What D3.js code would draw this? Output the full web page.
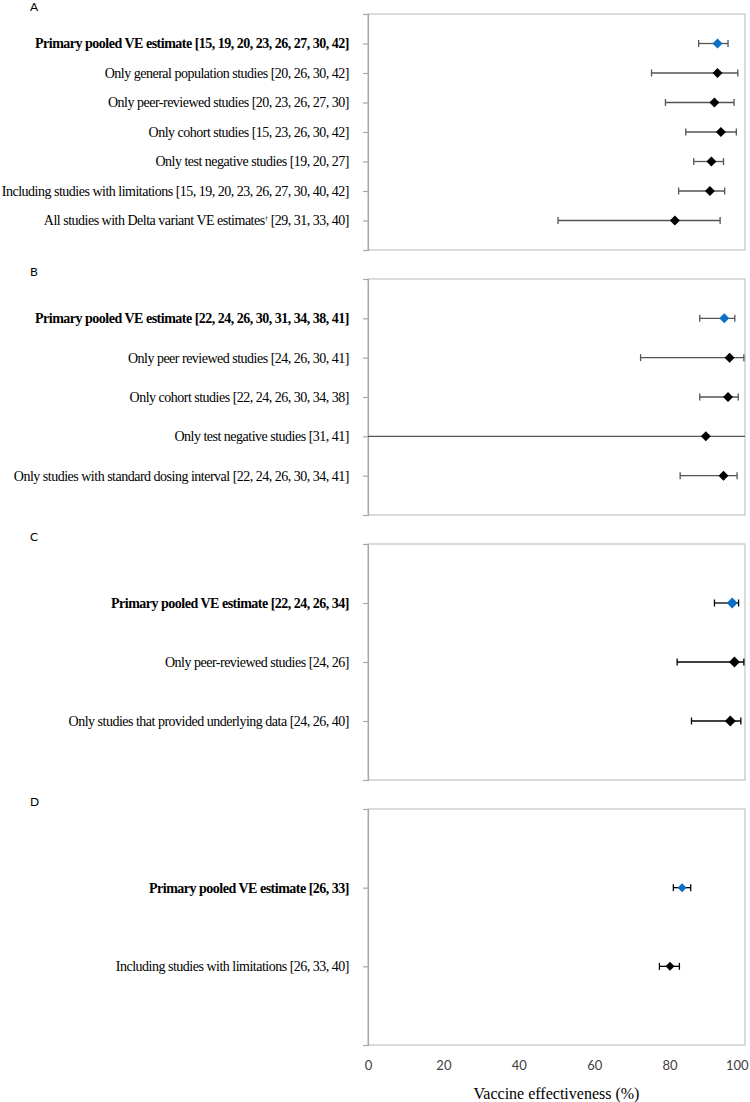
<!DOCTYPE html>
<html>
<head>
<meta charset="utf-8">
<script src="https://cdn.jsdelivr.net/npm/d3@7"></script>
<style>
  body { margin: 0; background: #fff; }
  .row-label text { font-family: "Liberation Serif", "Times New Roman", serif; font-size: 14px; letter-spacing: -0.5px; fill: #000; }
  .panel-letter { font-family: Lato, "Open Sans", sans-serif; font-size: 12px; fill: #000; }
</style>
</head>
<body>
<svg id="chart" width="750" height="1102"></svg>
<script>

// Panel A
const labelsA = [
    'Primary pooled VE estimate [15, 19, 20, 23, 26, 27, 30, 42]',
    'Only general population studies [20, 26, 30, 42]',
    'Only peer-reviewed studies [20, 23, 26, 27, 30]',
    'Only cohort studies [15, 23, 26, 30, 42]',
    'Only test negative studies [19, 20, 27]',
    'Including studies with limitations [15, 19, 20, 23, 26, 27, 30, 40, 42]',
    'All studies with Delta variant VE estimates† [29, 31, 33, 40]'
]
const estA  = [92.7, 92.7, 91.9, 93.6, 91.1, 90.7, 81.4]
const lowA  = [87.7, 75.2, 78.9, 84.3, 86.4, 82.4, 50.4]
const highA = [95.5, 98.1, 97.1, 97.7, 94.3, 94.6, 93.4]

// Panel B
const labelsB = [
    'Primary pooled VE estimate [22, 24, 26, 30, 31, 34, 38, 41]',
    'Only peer reviewed studies [24, 26, 30, 41]',
    'Only cohort studies [22, 24, 26, 30, 34, 38]',
    'Only test negative studies [31, 41]',
    'Only studies with standard dosing interval [22, 24, 26, 30, 34, 41]'
]
const estB  = [94.5, 95.9, 95.5, 89.6, 94.3]
const lowB  = [88.0, 72.3, 88.0, -15, 82.8]
const highB = [97.3, 99.7, 98.2, 115, 97.9]

// Panel C
const labelsC = [
    'Primary pooled VE estimate [22, 24, 26, 34]',
    'Only peer-reviewed studies [24, 26]',
    'Only studies that provided underlying data [24, 26, 40]'
]
const estC  = [96.6, 97.2, 96.1]
const lowC  = [91.9, 82.0, 85.8]
const highC = [98.3, 99.7, 98.9]

// Panel D
const labelsD = [
    'Primary pooled VE estimate [26, 33]',
    'Including studies with limitations [26, 33, 40]'
]
const estD  = [83.3, 80.1]
const lowD  = [81.0, 77.3]
const highD = [85.6, 82.6]

const xTicks = [0, 20, 40, 60, 80, 100]
const xTitle = 'Vaccine effectiveness (%)'

// Layout
const plotLeft = 368, plotRight = 745
const panelTop0 = 14, panelStep = 265, panelHeight = 236

const panels = [
    {letter: 'A', labels: labelsA, est: estA, low: lowA, high: highA, bar: '#555', marker: 10},
    {letter: 'B', labels: labelsB, est: estB, low: lowB, high: highB, bar: '#555', marker: 10},
    {letter: 'C', labels: labelsC, est: estC, low: lowC, high: highC, bar: '#000', marker: 11},
    {letter: 'D', labels: labelsD, est: estD, low: lowD, high: highD, bar: '#000', marker: 9}
]

const svg = d3.select('#chart')

const x = d3.scaleLinear().domain([0, 100]).range([plotLeft, plotRight])

panels.forEach(function(p, pi){

    const top = panelTop0 + pi * panelStep
    const bottom = top + panelHeight
    const n = p.labels.length

    const y = d3.scaleLinear().domain([0, n + 1]).range([top, bottom])

    const g = svg.append('g').classed('panel', true)

    // Panel letter
    g.append('text')
        .attr('class', 'panel-letter')
        .attr('x', 30)
        .attr('y', top - 3)
        .text(p.letter)

    // Frame
    g.append('rect')
        .attr('x', x(0))
        .attr('y', top)
        .attr('width', x(100) - x(0))
        .attr('height', bottom - top)
        .attr('fill', 'none')
        .attr('stroke', '#c4c4c4')
        .attr('stroke-width', 1.2)

    // Left axis with row labels
    const yAxis = d3.axisLeft(y)
        .tickValues(d3.range(0, n + 2))
        .tickSize(5)
        .tickPadding(14)
        .tickFormat(i => (i >= 1 && i <= n) ? p.labels[i - 1] : '')

    const ax = g.append('g')
        .attr('class', 'row-label')
        .attr('transform', 'translate(' + x(0) + ',0)')
        .call(yAxis)

    ax.select('.domain').attr('stroke', '#a8a8a8').attr('stroke-width', 1.2)
    ax.selectAll('.tick line').attr('stroke', '#a8a8a8').attr('stroke-width', 1.2)
    ax.selectAll('.tick text')
        .attr('font-weight', i => i === 1 ? 'bold' : null)
        .each(function(i){
            const t = d3.select(this)
            const s = t.text()
            if (s.indexOf('†') >= 0){
                const parts = s.split('†')
                t.text(null)
                t.append('tspan').text(parts[0])
                t.append('tspan').attr('font-size', '7px').attr('dy', '-5').text('†')
                t.append('tspan').attr('dy', '5').text(parts[1])
            }
        })

    // Clip for bars that run off the plot
    const clipId = 'clip-' + p.letter
    g.append('clipPath').attr('id', clipId)
        .append('rect')
        .attr('x', x(0)).attr('y', top)
        .attr('width', x(100) - x(0)).attr('height', bottom - top)

    const rows = g.append('g')
        .attr('clip-path', 'url(#' + clipId + ')')
        .selectAll('g.row')
        .data(p.est.map((e, i) => ({e: e, lo: p.low[i], hi: p.high[i], i: i})))
        .enter()
        .append('g')
        .classed('row', true)

    // Error bars
    rows.append('line')
        .attr('x1', d => x(d.lo)).attr('x2', d => x(d.hi))
        .attr('y1', d => y(d.i + 1)).attr('y2', d => y(d.i + 1))
        .attr('stroke', p.bar).attr('stroke-width', 1.3)

    rows.selectAll('line.cap')
        .data(d => [{v: d.lo, i: d.i}, {v: d.hi, i: d.i}])
        .enter()
        .append('line')
        .classed('cap', true)
        .attr('x1', d => x(d.v)).attr('x2', d => x(d.v))
        .attr('y1', d => y(d.i + 1) - 3.5).attr('y2', d => y(d.i + 1) + 3.5)
        .attr('stroke', p.bar).attr('stroke-width', 1.3)

    // Diamonds
    const side = p.marker / Math.SQRT2
    rows.append('path')
        .attr('d', d3.symbol(d3.symbolSquare, side * side))
        .attr('transform', d => 'translate(' + x(d.e) + ',' + y(d.i + 1) + ') rotate(45)')
        .attr('fill', d => d.i === 0 ? '#0a70c6' : '#000')

    // Bottom axis on the last panel
    if (pi === panels.length - 1){
        const xa = g.append('g')
            .attr('transform', 'translate(0,' + bottom + ')')
            .call(d3.axisBottom(x).tickValues(xTicks).tickSize(0).tickPadding(16))
        xa.select('.domain').remove()
        xa.selectAll('text')
            .attr('font-family', 'Lato, "Open Sans", sans-serif')
            .attr('font-size', '13px')
            .attr('fill', '#404040')
            .filter(d => d === 100)
            .attr('text-anchor', 'end')
            .attr('dx', '3px')

        g.append('text')
            .attr('x', (x(0) + x(100)) / 2)
            .attr('y', bottom + 54)
            .attr('text-anchor', 'middle')
            .attr('font-family', '"Liberation Serif", "Times New Roman", serif')
            .attr('font-size', '16px')
            .text(xTitle)
    }
})

</script>
</body>
</html>
